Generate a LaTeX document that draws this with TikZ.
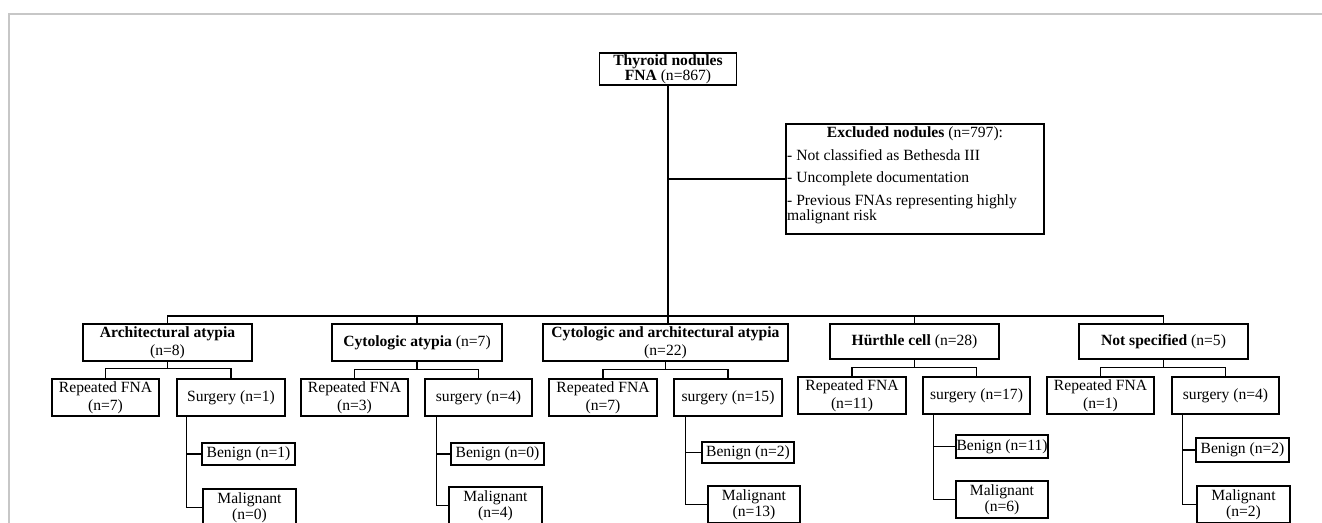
\documentclass[tikz,border=0pt]{standalone}
\usepackage{fontspec}
\setmainfont{Liberation Serif}
\begin{document}
\begin{tikzpicture}[x=1pt,y=-1pt,
  bx/.style={draw=black, line width=1.1pt, inner sep=0.5pt, align=center, font=\fontsize{15.6}{17.5}\selectfont},
  ln/.style={draw=black, line width=1.1pt},
  txt/.style={inner sep=0pt, font=\fontsize{15.6}{17.5}\selectfont}]
\useasboundingbox (0,0) rectangle (1322,522);
\clip (0,0) rectangle (1322,522);
\draw[black!22, line width=1.2pt] (9,540) -- (9,14) -- (1340,14);

% top
\node[bx, font=\fontsize{15.6}{15.5}\selectfont, minimum width=137, minimum height=32] (top) at (668,69)
  {\textbf{Thyroid nodules}\\\textbf{FNA} (n=867)};
\coordinate (bus) at (668,316);

% excluded
\node[bx, minimum width=258, minimum height=110] (excl) at (915,179) {};
\node[txt, anchor=base] (ex0) at (915,137) {\textbf{Excluded nodules} (n=797):};
\node[txt, anchor=base west] (ex1) at (787,160) {- Not classified as Bethesda III};
\node[txt, anchor=base west] (ex2) at (787,182.5) {- Uncomplete documentation};
\node[txt, anchor=base west] (ex3) at (787,205) {- Previous FNAs representing highly};
\node[txt, anchor=base west] (ex4) at (787,220) {malignant risk};

% categories
\node[bx, minimum width=169, minimum height=37] (a) at (167.5,342.5) {\textbf{Architectural atypia}\\(n=8)};
\node[bx, minimum width=170, minimum height=37] (c) at (417,342.5) {\textbf{Cytologic atypia} (n=7)};
\node[bx, minimum width=245, minimum height=37] (ca) at (665.5,342.5) {\textbf{Cytologic and architectural atypia}\\(n=22)};
\node[bx, minimum width=169, minimum height=35] (h) at (914.5,341.5) {\textbf{Hürthle cell} (n=28)};
\node[bx, minimum width=169, minimum height=35] (ns) at (1163.5,341.5) {\textbf{Not specified} (n=5)};

% trunk and bus
\draw[ln] (top.south) -- (bus);
\draw[ln] (bus |- excl.west) -- (excl.west);
\draw[ln] (a.north) -- (a.north |- bus) -- (ns.north |- bus) -- (ns.north);
\draw[ln] (bus) -- (bus |- ca.north);
\draw[ln] (c.north) -- (c.north |- bus);
\draw[ln] (h.north) -- (h.north |- bus);

% Architectural group
\node[bx, minimum width=107, minimum height=37] (arf) at (105.5,397.5) {Repeated FNA\\(n=7)};
\node[bx, minimum width=108, minimum height=37] (asg) at (231,397.5) {Surgery (n=1)};
\node[bx, minimum width=93, minimum height=22] (abn) at (248.5,454) {Benign (n=1)};
\node[bx, font=\fontsize{15.6}{16.5}\selectfont, minimum width=93, minimum height=37] (aml) at (249.5,507.5) {Malignant\\(n=0)};
\path (arf.north) ++(0,-10) coordinate (aj);
\draw[ln] (arf.north) -- (aj) -- (asg.north |- aj) -- (asg.north);
\draw[ln] (a.south) -- (a.south |- aj);
\coordinate (av) at ([xshift=10pt]asg.south west);
\draw[ln] (av) |- (aml.west);
\draw[ln] (av |- abn.west) -- (abn.west);

% Cytologic group
\node[bx, minimum width=107, minimum height=37] (crf) at (354.5,397.5) {Repeated FNA\\(n=3)};
\node[bx, minimum width=107, minimum height=37] (csg) at (478.5,397.5) {surgery (n=4)};
\node[bx, minimum width=93, minimum height=22] (cbn) at (497.5,454) {Benign (n=0)};
\node[bx, font=\fontsize{15.6}{16.5}\selectfont, minimum width=93, minimum height=37] (cml) at (495.5,505.5) {Malignant\\(n=4)};
\path (crf.north) ++(0,-9) coordinate (cj);
\draw[ln] (crf.north) -- (cj) -- (csg.north |- cj) -- (csg.north);
\draw[ln] (c.south) -- (c.south |- cj);
\coordinate (cv) at ([xshift=12pt]csg.south west);
\draw[ln] (cv) |- (cml.west);
\draw[ln] (cv |- cbn.west) -- (cbn.west);

% Cytologic and architectural group
\node[bx, minimum width=108, minimum height=37] (xrf) at (603,397.5) {Repeated FNA\\(n=7)};
\node[bx, minimum width=108, minimum height=37] (xsg) at (728,397.5) {surgery (n=15)};
\node[bx, minimum width=92, minimum height=21] (xbn) at (748,452.5) {Benign (n=2)};
\node[bx, font=\fontsize{15.6}{16.5}\selectfont, minimum width=92, minimum height=37] (xml) at (754,504.5) {Malignant\\(n=13)};
\path (xrf.north) ++(0,-9) coordinate (xj);
\draw[ln] (xrf.north) -- (xj) -- (xsg.north |- xj) -- (xsg.north);
\draw[ln] (ca.south) -- (ca.south |- xj);
\coordinate (xv) at ([xshift=12pt]xsg.south west);
\draw[ln] (xv) |- (xml.west);
\draw[ln] (xv |- xbn.west) -- (xbn.west);

% Hurthle group
\node[bx, minimum width=108, minimum height=37] (hrf) at (852,395.5) {Repeated FNA\\(n=11)};
\node[bx, minimum width=107, minimum height=37] (hsg) at (976.5,395.5) {surgery (n=17)};
\node[bx, minimum width=92, minimum height=23] (hbn) at (1002,446.5) {Benign (n=11)};
\node[bx, font=\fontsize{15.6}{16.5}\selectfont, minimum width=92, minimum height=37] (hml) at (1002,499.5) {Malignant\\(n=6)};
\path (hrf.north) ++(0,-9) coordinate (hj);
\draw[ln] (hrf.north) -- (hj) -- (hsg.north |- hj) -- (hsg.north);
\draw[ln] (h.south) -- (h.south |- hj);
\coordinate (hv) at ([xshift=11pt]hsg.south west);
\draw[ln] (hv) |- (hml.west);
\draw[ln] (hv |- hbn.west) -- (hbn.west);

% Not specified group
\node[bx, minimum width=107, minimum height=37] (nrf) at (1100.5,395.5) {Repeated FNA\\(n=1)};
\node[bx, minimum width=107, minimum height=37] (nsg) at (1225.5,395.5) {surgery (n=4)};
\node[bx, minimum width=93, minimum height=24] (nbn) at (1242.5,450) {Benign (n=2)};
\node[bx, font=\fontsize{15.6}{16.5}\selectfont, minimum width=93, minimum height=37] (nml) at (1243.5,504.5) {Malignant\\(n=2)};
\path (nrf.north) ++(0,-9) coordinate (nj);
\draw[ln] (nrf.north) -- (nj) -- (nsg.north |- nj) -- (nsg.north);
\draw[ln] (ns.south) -- (ns.south |- nj);
\coordinate (nv) at ([xshift=11pt]nsg.south west);
\draw[ln] (nv) |- (nml.west);
\draw[ln] (nv |- nbn.west) -- (nbn.west);
\end{tikzpicture}
\end{document}
